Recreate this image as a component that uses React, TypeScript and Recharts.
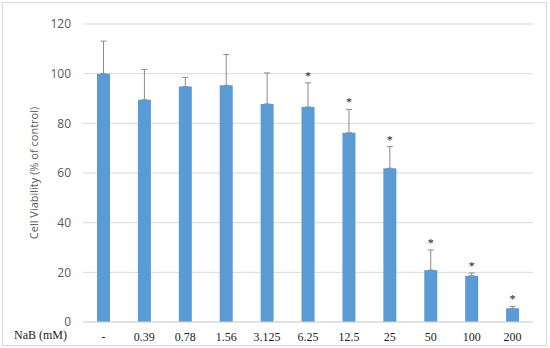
import React from 'react'
import {
  BarChart,
  Bar,
  XAxis,
  YAxis,
  CartesianGrid,
  ErrorBar,
  LabelList
} from 'recharts'

// NaB concentrations (mM), '-' is the untreated control
const doses = ['-', '0.39', '0.78', '1.56', '3.125', '6.25', '12.5', '25', '50', '100', '200']
const viability = [100, 89.5, 94.8, 95.3, 87.8, 86.6, 76.2, 61.9, 20.9, 18.6, 5.5]
const sdUpper = [13.1, 12.2, 3.7, 12.4, 12.5, 9.7, 9.4, 8.7, 8.1, 1.1, 0.8]
const significant = [false, false, false, false, false, true, true, true, true, true, true]
const yTicks = [0, 20, 40, 60, 80, 100, 120]

const data = doses.map((dose, i) => ({
  dose,
  value: viability[i],
  err: [0, sdUpper[i]],
  sd: sdUpper[i],
  star: significant[i] ? '*' : ''
}))

// Asterisk drawn just above the top of the error bar
const StarLabel = (props: any) => {
  const { x, y, width, height, value, index } = props
  if (!value) return null
  const v = viability[index]
  const pxPerUnit = v ? height / v : 0
  const top = y - sdUpper[index] * pxPerUnit
  return (
    <text
      x={x + width / 2}
      y={top - 3}
      textAnchor="middle"
      fontFamily="'Liberation Serif', serif"
      fontSize={12}
      fill="#222"
    >
      {value}
    </text>
  )
}

export default function App() {
  return (
    <div
      style={{
        position: 'absolute',
        left: 0,
        top: 0,
        width: 550,
        height: 348,
        background: '#fff'
      }}
    >
      <div
        style={{
          position: 'absolute',
          left: 2,
          top: 2,
          width: 543,
          height: 342,
          border: '1px solid #d9d9d9'
        }}
      />
      <div style={{ position: 'absolute', left: 0, top: 0 }}>
        <BarChart
          width={550}
          height={348}
          data={data}
          margin={{ top: 24, right: 17, bottom: 0, left: 0 }}
          barSize={13}
        >
          <CartesianGrid stroke="#d9d9d9" vertical={false} />
          <XAxis
            dataKey="dose"
            height={26}
            axisLine={{ stroke: '#d9d9d9' }}
            tickLine={false}
            interval={0}
            tick={{ fill: '#222', fontSize: 12, fontFamily: "'Liberation Serif', serif" }}
            tickMargin={4}
            label={{
              value: 'NaB (mM)',
              position: 'left',
              offset: 16,
              fill: '#222',
              fontSize: 12,
              fontFamily: "'Liberation Serif', serif"
            }}
          />
          <YAxis
            width={83}
            domain={[0, 120]}
            ticks={yTicks}
            axisLine={false}
            tickLine={false}
            tickMargin={6}
            tick={{ fill: '#595959', fontSize: 12, fontFamily: "'Open Sans', sans-serif" }}
            label={{
              value: 'Cell Viability (% of control)',
              angle: -90,
              position: 'insideLeft',
              offset: 34,
              style: { textAnchor: 'middle' },
              fill: '#595959',
              fontSize: 11,
              fontFamily: "'Open Sans', sans-serif"
            }}
          />
          <Bar dataKey="value" fill="#5b9bd5" isAnimationActive={false}>
            <ErrorBar dataKey="err" width={3} stroke="#8c8c8c" strokeWidth={1} direction="y" />
            <LabelList dataKey="star" content={<StarLabel />} />
          </Bar>
        </BarChart>
      </div>
    </div>
  )
}
